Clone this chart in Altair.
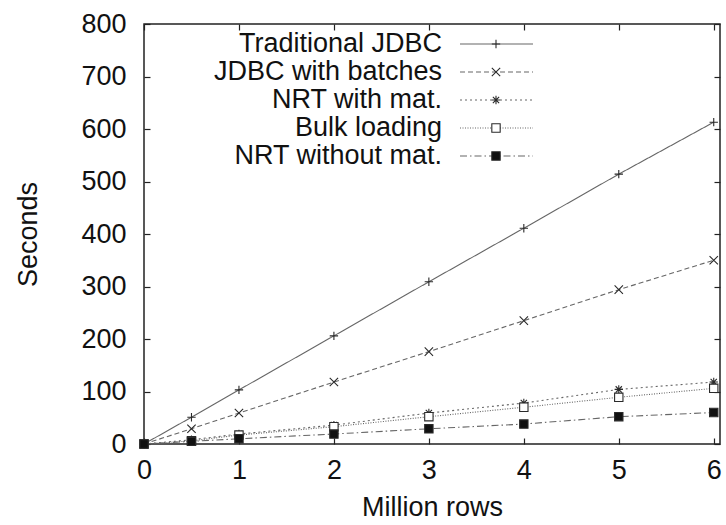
import altair as alt
import pandas as pd

# ---- data ----
rows = [0, 0.5, 1, 2, 3, 4, 5, 6]
series_names = ["Traditional JDBC", "JDBC with batches", "NRT with mat.",
                "Bulk loading", "NRT without mat."]
traditional_jdbc = [0, 51, 103, 206, 309, 411, 514, 613]
jdbc_batches = [0, 29, 59, 118, 176, 235, 294, 350]
nrt_with_mat = [0, 8, 19, 36, 59, 78, 104, 118]
bulk_loading = [0, 6, 17, 33, 52, 70, 89, 106]
nrt_without_mat = [0, 5, 10, 19, 29, 38, 52, 60]
x_ticks = [0, 1, 2, 3, 4, 5, 6]
y_ticks = [0, 100, 200, 300, 400, 500, 600, 700, 800]

values = [traditional_jdbc, jdbc_batches, nrt_with_mat, bulk_loading, nrt_without_mat]
records = []
for name, vals in zip(series_names, values):
    for r, v in zip(rows, vals):
        records.append({"series": name, "rows": r, "seconds": v})
df = pd.DataFrame(records)
legend_df = pd.DataFrame({"series": series_names, "rank": list(range(len(series_names)))})

# ---- styles ----
FONT = "Liberation Sans"
FS = 27
W, H = 576, 420
PLUS = "M-1,0L1,0M0,-1L0,1"
CROSS = "M-1,-1L1,1M-1,1L1,-1"
STAR = "M-1,0L1,0M0,-1L0,1M-0.75,-0.75L0.75,0.75M-0.75,0.75L0.75,-0.75"

dash_scale = alt.Scale(domain=series_names,
                       range=[[1, 0], [5, 3], [2, 3], [1, 1.5], [7, 3, 1.5, 3]])
shape_scale = alt.Scale(domain=series_names,
                        range=[PLUS, CROSS, STAR, "square", "square"])
fill_scale = alt.Scale(domain=series_names,
                       range=["transparent", "transparent", "transparent", "white", "#111111"])

x_scale = alt.Scale(domain=[0, 6.066], nice=False, zero=False)
y_scale = alt.Scale(domain=[0, 800], nice=False)

common_axis = dict(grid=False, domain=False, tickSize=6, tickWidth=1.2,
                   tickColor="#222222", offset=-6, labelFlush=False,
                   labelOverlap=False)

x_main = alt.X("rows:Q", scale=x_scale,
               axis=alt.Axis(orient="bottom", values=x_ticks, title="Million rows",
                             labelBaseline="middle", labelPadding=26,
                             titleX=W / 2, titleY=69, titleBaseline="middle",
                             titleAlign="center", **common_axis))
y_main = alt.Y("seconds:Q", scale=y_scale,
               axis=alt.Axis(orient="left", values=y_ticks, title="Seconds",
                             labelPadding=18, labelAlign="right",
                             titleX=-122, titleY=H / 2, titleAngle=-90,
                             titleBaseline="middle", titleAlign="center",
                             **common_axis))
x_top = alt.X("rows:Q", scale=x_scale,
              axis=alt.Axis(orient="top", values=x_ticks, labels=False, title=None,
                            **common_axis))
y_right = alt.Y("seconds:Q", scale=y_scale,
                axis=alt.Axis(orient="right", values=y_ticks, labels=False, title=None,
                              **common_axis))

lines = alt.Chart(df).mark_line(color="#666666", strokeWidth=1.1).encode(
    x=x_main, y=y_main,
    strokeDash=alt.StrokeDash("series:N", scale=dash_scale, legend=None),
    detail="series:N",
)

points = alt.Chart(df).mark_point(filled=True, stroke="#2a2a2a", strokeWidth=1.1,
                                  size=70, opacity=1).encode(
    x=x_top, y=y_right,
    shape=alt.Shape("series:N", scale=shape_scale, legend=None),
    fill=alt.Fill("series:N", scale=fill_scale, legend=None),
)

leg_base = alt.Chart(legend_df).transform_calculate(ly="20 + 28 * datum.rank")
leg_y = alt.Y("ly:Q", scale=None, axis=None)

leg_text = leg_base.mark_text(align="right", baseline="middle", font=FONT,
                              fontSize=FS, color="#111111").encode(
    x=alt.value(298), y=leg_y, text="series:N")
leg_line = leg_base.mark_rule(color="#666666", strokeWidth=1.1).encode(
    x=alt.value(316), x2=alt.value(389), y=leg_y,
    strokeDash=alt.StrokeDash("series:N", scale=dash_scale, legend=None))
leg_pt = leg_base.mark_point(filled=True, stroke="#2a2a2a", strokeWidth=1.1,
                             size=70, opacity=1).encode(
    x=alt.value(352), y=leg_y,
    shape=alt.Shape("series:N", scale=shape_scale, legend=None),
    fill=alt.Fill("series:N", scale=fill_scale, legend=None))

chart = alt.layer(lines, points, leg_line, leg_pt, leg_text).resolve_axis(
    x="independent", y="independent"
).properties(
    width=W, height=H,
    autosize=alt.AutoSizeParams(type="none"),
    padding={"left": 144, "top": 24, "right": 6, "bottom": 81},
    background="white",
).configure_axis(
    labelFont=FONT, titleFont=FONT, labelFontSize=FS, titleFontSize=FS,
    labelColor="#111111", titleColor="#111111", titleFontWeight="normal",
).configure_view(
    stroke="#222222", strokeWidth=1.5,
)

chart.save("out.html", embed_options={"renderer": "svg", "actions": False})
